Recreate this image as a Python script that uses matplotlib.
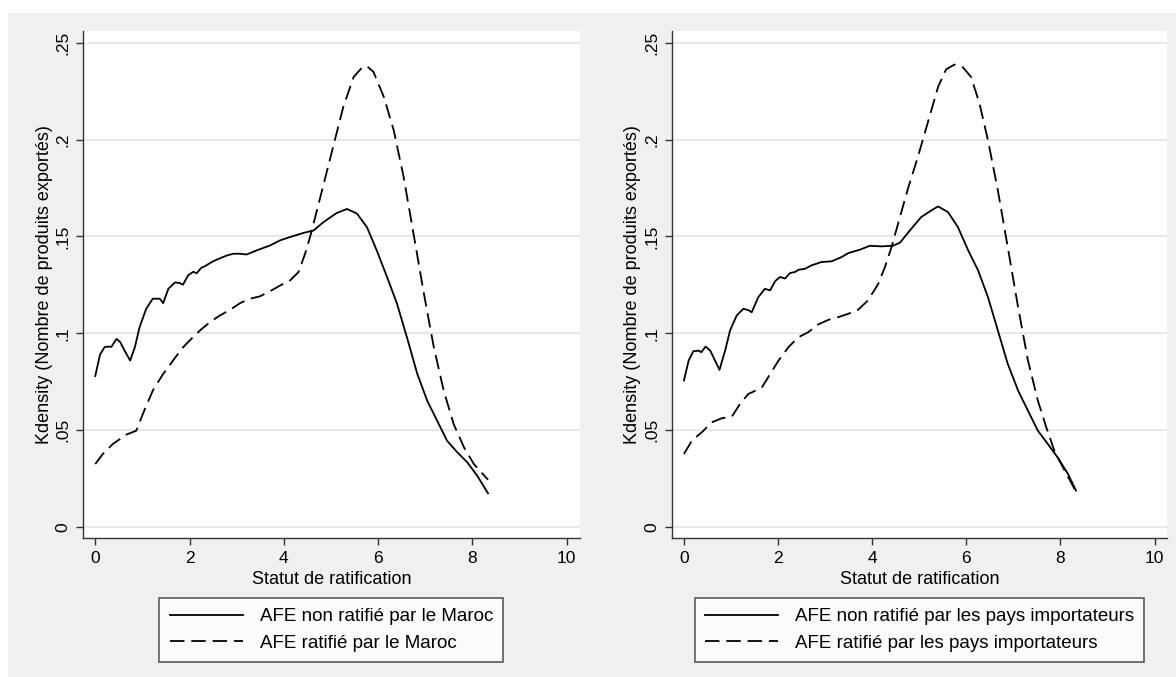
import numpy as np
import matplotlib
matplotlib.use('Agg')
import matplotlib.pyplot as plt
from matplotlib.patches import Rectangle

plt.rcParams['font.family'] = ['Liberation Sans', 'DejaVu Sans']

# values
maroc_non_x = [0.00, 0.10, 0.20, 0.30, 0.34, 0.45, 0.53, 0.62, 0.74, 0.84, 0.94, 1.08, 1.22,
               1.37, 1.44, 1.55, 1.69, 1.79, 1.86, 1.97, 2.08, 2.15, 2.25, 2.32, 2.47, 2.57,
               2.68, 2.79, 2.93, 3.07, 3.21, 3.42, 3.71, 3.92, 4.13, 4.41, 4.63, 4.84, 5.12,
               5.34, 5.55, 5.76, 5.97, 6.19, 6.40, 6.61, 6.83, 7.04, 7.25, 7.46, 7.68, 7.89,
               8.10, 8.33]
maroc_non_y = [0.078, 0.089, 0.093, 0.0932, 0.093, 0.0972, 0.0955, 0.0912, 0.086, 0.0929,
               0.1032, 0.1127, 0.1179, 0.1179, 0.1156, 0.123, 0.1263, 0.126, 0.1251, 0.130,
               0.1318, 0.131, 0.1339, 0.1346, 0.1368, 0.138, 0.1391, 0.1402, 0.1411, 0.1411,
               0.1407, 0.1428, 0.1454, 0.148, 0.1497, 0.1518, 0.1531, 0.1574, 0.1621, 0.1642,
               0.1618, 0.1549, 0.1428, 0.129, 0.1153, 0.098, 0.0791, 0.0653, 0.055, 0.0447,
               0.0386, 0.0335, 0.0266, 0.0175]

maroc_rat_x = [0.00, 0.16, 0.375, 0.66, 0.87, 1.01, 1.22, 1.44, 1.65, 1.83, 2.00, 2.22, 2.43,
               2.64, 2.86, 3.07, 3.28, 3.49, 3.71, 3.92, 4.13, 4.31, 4.45, 4.57, 4.77, 5.00,
               5.26, 5.48, 5.66, 5.76, 5.90, 6.12, 6.33, 6.54, 6.75, 6.97, 7.18, 7.39, 7.60,
               7.82, 8.03, 8.33]
maroc_rat_y = [0.0326, 0.0378, 0.043, 0.0478, 0.0498, 0.0585, 0.0705, 0.0791, 0.086, 0.092,
               0.0963, 0.1015, 0.1058, 0.1092, 0.1122, 0.1156, 0.1179, 0.1191, 0.1218, 0.1247,
               0.1273, 0.1316, 0.1411, 0.151, 0.170, 0.192, 0.2168, 0.2323, 0.2372, 0.2379,
               0.2349, 0.222, 0.2048, 0.1807, 0.1514, 0.1205, 0.0929, 0.0705, 0.0533, 0.0412,
               0.0326, 0.0245]

pays_non_x = [0.00, 0.10, 0.20, 0.31, 0.37, 0.46, 0.56, 0.66, 0.755, 0.875, 0.98, 1.12, 1.26,
              1.37, 1.44, 1.58, 1.72, 1.83, 1.94, 2.04, 2.15, 2.25, 2.36, 2.44, 2.57, 2.71,
              2.92, 3.14, 3.35, 3.49, 3.74, 3.95, 4.20, 4.44, 4.59, 4.78, 5.04, 5.26, 5.40,
              5.61, 5.82, 6.04, 6.25, 6.46, 6.67, 6.88, 7.10, 7.31, 7.52, 7.73, 7.94, 8.16,
              8.33]
pays_non_y = [0.0757, 0.086, 0.0908, 0.0911, 0.0903, 0.0932, 0.0911, 0.086, 0.0812, 0.0911,
              0.1015, 0.1092, 0.1127, 0.112, 0.1109, 0.1187, 0.123, 0.1222, 0.127, 0.1291,
              0.1283, 0.1311, 0.1317, 0.1329, 0.1333, 0.1351, 0.1368, 0.1372, 0.1394, 0.1414,
              0.1432, 0.1452, 0.1449, 0.1452, 0.1468, 0.1525, 0.160, 0.1635, 0.1655, 0.1626,
              0.1549, 0.1428, 0.1325, 0.1187, 0.1015, 0.0843, 0.0705, 0.0601, 0.0498, 0.043,
              0.036, 0.0275, 0.0189]

pays_rat_x = [0.00, 0.17, 0.38, 0.59, 0.80, 1.02, 1.19, 1.37, 1.65, 1.79, 2.01, 2.22, 2.43,
              2.64, 2.85, 3.07, 3.28, 3.49, 3.70, 3.91, 4.13, 4.27, 4.41, 4.55, 4.76, 4.97,
              5.19, 5.40, 5.57, 5.75, 5.93, 6.10, 6.28, 6.46, 6.67, 6.88, 7.10, 7.31, 7.52,
              7.70, 7.87, 8.09, 8.30]
pays_rat_y = [0.0378, 0.0447, 0.049, 0.0541, 0.0562, 0.0571, 0.0636, 0.0688, 0.0719, 0.0774,
              0.086, 0.0929, 0.098, 0.1006, 0.1046, 0.107, 0.1084, 0.1101, 0.1122, 0.117,
              0.1256, 0.1342, 0.1445, 0.1566, 0.1747, 0.191, 0.2095, 0.2272, 0.2362, 0.2387,
              0.2372, 0.2323, 0.2186, 0.1996, 0.1738, 0.1445, 0.1135, 0.086, 0.0653, 0.0515,
              0.0395, 0.0292, 0.0197]

labels_maroc = ['AFE non ratifié par le Maroc', 'AFE ratifié par le Maroc']
labels_pays = ['AFE non ratifié par les pays importateurs', 'AFE ratifié par les pays importateurs']

yticks = [0, 0.05, 0.1, 0.15, 0.2, 0.25]
ytick_labels = ['0', '.05', '.1', '.15', '.2', '.25']
xticks = [0, 2, 4, 6, 8, 10]

W, H = 1176, 677
fig = plt.figure(figsize=(W / 100, H / 100), dpi=100, facecolor='white')
fig.patches.append(Rectangle((8 / W, 0), 1 - 8 / W, 1 - 12.5 / H, transform=fig.transFigure,
                             facecolor='#f0f0f0', edgecolor='none', zorder=-10))

panels = [
    (83, 579.5, maroc_non_x, maroc_non_y, maroc_rat_x, maroc_rat_y, labels_maroc),
    (671.7, 1167.3, pays_non_x, pays_non_y, pays_rat_x, pays_rat_y, labels_pays),
]

top, bottom = 31, 538.3
for left, right, x1, y1, x2, y2, labels in panels:
    ax = fig.add_axes([left / W, 1 - bottom / H, (right - left) / W, (bottom - top) / H])
    ax.set_facecolor('white')
    ax.plot(x1, y1, color='black', lw=1.3, label=labels[0])
    ax.plot(x2, y2, color='black', lw=1.3, dashes=(8, 3.8), label=labels[1])

    ax.set_xlim(-0.26, 10.27)
    ax.set_ylim(-0.0057, 0.256)
    ax.set_xticks(xticks)
    ax.set_yticks(yticks)
    ax.set_yticklabels(ytick_labels, rotation=90, va='center')
    ax.tick_params(labelsize=12.5, length=5, width=1, color='#333333', pad=4)
    ax.grid(axis='y', color='#e6e6e6', lw=1.3)
    ax.set_axisbelow(True)
    for s in ['top', 'right']:
        ax.spines[s].set_visible(False)
    for s in ['left', 'bottom']:
        ax.spines[s].set_color('#333333')
        ax.spines[s].set_linewidth(1)

    ax.set_xlabel('Statut de ratification', fontsize=13, labelpad=4)
    ax.set_ylabel('Kdensity (Nombre de produits exportés)', fontsize=13, labelpad=2)

    cx = (left + right) / 2 / W
    leg = ax.legend(loc='upper center', bbox_to_anchor=(cx, 1 - 598 / H),
                    bbox_transform=fig.transFigure, fontsize=13.5, frameon=True,
                    fancybox=False, handlelength=3.9, handletextpad=0.9,
                    borderpad=0.55, labelspacing=0.5, borderaxespad=0)
    leg.get_frame().set_edgecolor('#333333')
    leg.get_frame().set_linewidth(1.2)

fig.savefig('out.png', dpi=100, facecolor=fig.get_facecolor())
